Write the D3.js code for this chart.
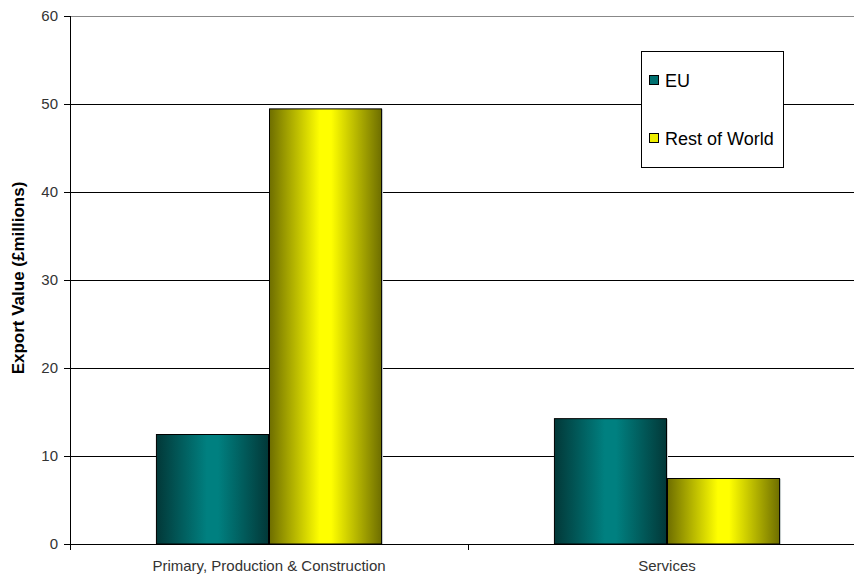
<!DOCTYPE html>
<html><head><meta charset="utf-8">
<script src="https://cdn.jsdelivr.net/npm/d3@7"></script>
<style>body{margin:0;background:#fff}svg{display:block}text{font-family:Arial,"Liberation Sans",sans-serif}</style>
</head><body>
<svg id="c" width="854" height="574"></svg>
<script>
const categories = ["Primary, Production & Construction", "Services"];
const seriesNames = ["EU", "Rest of World"];
const euValues = [12.5, 14.3];
const rowValues = [49.5, 7.5];
const yTicks = [0, 10, 20, 30, 40, 50, 60];

const svg = d3.select("#c");
const m = {left: 70, top: 16, bottom: 544, right: 866};
const x = d3.scaleBand().domain(categories).range([m.left, m.right]).paddingInner(0).paddingOuter(0);
const y = d3.scaleLinear().domain([0, 60]).range([m.bottom, m.top]);
const sub = d3.scaleBand().domain(seriesNames).range([0, x.bandwidth()]).paddingInner(0).paddingOuter(0.76);

const defs = svg.append("defs");
function grad(id, edge, mid) {
  const g = defs.append("linearGradient").attr("id", id).attr("x1", "0").attr("x2", "1").attr("y1", "0").attr("y2", "0");
  g.append("stop").attr("offset", "0%").attr("stop-color", edge);
  g.append("stop").attr("offset", "45%").attr("stop-color", mid);
  g.append("stop").attr("offset", "55%").attr("stop-color", mid);
  g.append("stop").attr("offset", "100%").attr("stop-color", edge);
}
grad("gEU", "#023838", "#008080");
grad("gRW", "#6e6e00", "#ffff00");
const fills = {"EU": "url(#gEU)", "Rest of World": "url(#gRW)"};
const swatch = {"EU": "#007070", "Rest of World": "#eeee00"};

// gridlines
svg.append("g").selectAll("line").data(yTicks.filter(d => d > 0)).join("line")
  .attr("x1", m.left).attr("x2", 854).attr("y1", d => y(d)).attr("y2", d => y(d))
  .attr("stroke", d => d === 60 ? "#888" : "#000").attr("stroke-width", 1).attr("shape-rendering", "crispEdges");

// y axis
const ya = svg.append("g").attr("transform", `translate(${m.left},0)`)
  .call(d3.axisLeft(y).tickValues(yTicks).tickSize(6).tickPadding(6));
ya.select(".domain").attr("stroke", "#000").attr("shape-rendering", "crispEdges");
ya.selectAll(".tick line").attr("stroke", "#000").attr("shape-rendering", "crispEdges");
ya.selectAll("text").attr("font-size", 15).attr("fill", "#333").attr("font-family", "Arial, Liberation Sans, sans-serif");

// bars
const data = [];
categories.forEach((c, i) => {
  data.push({c, s: "EU", v: euValues[i]});
  data.push({c, s: "Rest of World", v: rowValues[i]});
});
const bars = svg.append("g");
bars.selectAll("rect.sh").data(data).join("rect").attr("class", "sh")
  .attr("x", d => x(d.c) + sub(d.s) + 1.5).attr("y", d => y(d.v) + 1.5)
  .attr("width", sub.bandwidth() - 1).attr("height", d => y(0) - y(d.v) - 1.5)
  .attr("fill", "none").attr("stroke", "#cfd8d8").attr("stroke-width", 1);
bars.selectAll("rect.b").data(data).join("rect").attr("class", "b")
  .attr("x", d => x(d.c) + sub(d.s) + 0.5).attr("y", d => y(d.v) + 0.5)
  .attr("width", sub.bandwidth() - 1).attr("height", d => y(0) - y(d.v) - 0.5)
  .attr("fill", d => fills[d.s]).attr("stroke", "#000").attr("stroke-width", 1);

// x axis
const xa = svg.append("g").attr("transform", `translate(0,${m.bottom})`)
  .call(d3.axisBottom(x).tickSize(0).tickPadding(16));
xa.select(".domain").remove();
svg.append("line").attr("x1", m.left).attr("x2", 854).attr("y1", m.bottom + 0.5).attr("y2", m.bottom + 0.5).attr("stroke", "#000");
svg.append("line").attr("x1", x(categories[1]) + 0.5).attr("x2", x(categories[1]) + 0.5).attr("y1", m.bottom).attr("y2", m.bottom + 6).attr("stroke", "#000");
svg.append("line").attr("x1", m.left + 0.5).attr("x2", m.left + 0.5).attr("y1", m.bottom).attr("y2", m.bottom + 6).attr("stroke", "#000");
xa.selectAll("text").attr("font-size", 15).attr("fill", "#333").attr("font-family", "Arial, Liberation Sans, sans-serif");

// y label
svg.append("text").attr("transform", `translate(24,${(m.top + m.bottom) / 2 - 2}) rotate(-90)`)
  .attr("text-anchor", "middle").attr("font-size", 17).attr("font-weight", "bold").attr("fill", "#000")
  .text("Export Value (£millions)");

// legend
const lg = svg.append("g");
lg.append("rect").attr("x", 641.5).attr("y", 51.5).attr("width", 142).attr("height", 116)
  .attr("fill", "#fff").attr("stroke", "#000");
seriesNames.forEach((s, i) => {
  const ly = 81 + i * 58;
  lg.append("rect").attr("x", 649.5).attr("y", ly - 5.5).attr("width", 9).attr("height", 9)
    .attr("fill", swatch[s]).attr("stroke", "#000");
  lg.append("text").attr("x", 665).attr("y", ly + 6).attr("font-size", 18).attr("fill", "#000").text(s);
});
</script>
</body></html>
